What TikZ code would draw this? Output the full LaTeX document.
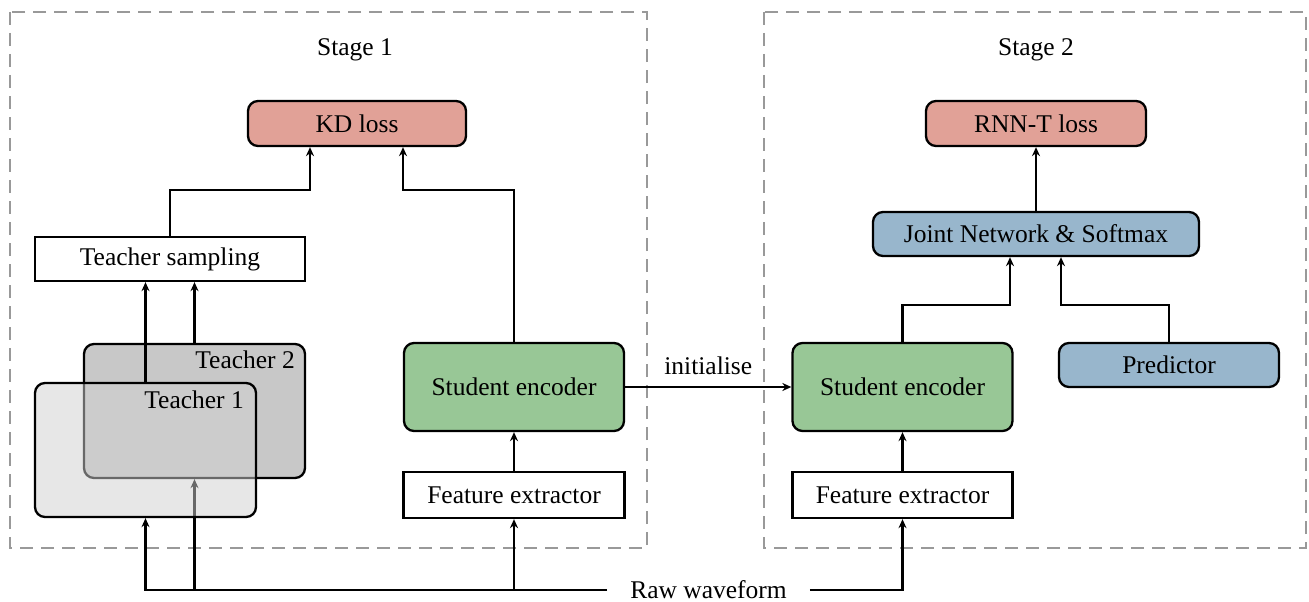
\documentclass[tikz,border=0pt]{standalone}
\usepackage{fontspec}
\setmainfont{Liberation Serif}
\usetikzlibrary{arrows.meta,positioning}
\definecolor{lossred}{HTML}{E1A197}
\definecolor{encgreen}{HTML}{98C796}
\definecolor{netblue}{HTML}{98B6CC}
\definecolor{tgrayA}{HTML}{C8C8C8}
\definecolor{tgrayB}{HTML}{D0D0D0}
\definecolor{dashgray}{HTML}{999999}
\tikzset{
  every node/.style={font=\fontsize{25.5}{30}\selectfont},
  boxbase/.style={draw=black, line width=2.3pt, inner sep=0pt},
  roundbox/.style={boxbase, rounded corners=10pt},
  flatbox/.style={boxbase},
  arr/.style={line width=2.3pt, -{Stealth[length=9pt,width=8pt]}},
  stagebox/.style={draw=dashgray, line width=2pt, dash pattern=on 13pt off 8pt},
  plaintext/.style={inner sep=0pt}
}
\begin{document}
\begin{tikzpicture}[x=1pt,y=-1pt]
\useasboundingbox (0,0) rectangle (1309,602);

% stage frames
\draw[stagebox] (10,12) rectangle (647,548);
\draw[stagebox] (764,12) rectangle (1306,548);
\node[plaintext] (st1) at (355,50) {Stage 1};
\node[plaintext] (st2) at (1036,50) {Stage 2};

% Stage 1 nodes
\node[roundbox, fill=lossred, minimum width=218pt, minimum height=45pt] (kd) at (357,123.5) {KD loss};
\node[flatbox, minimum width=270pt, minimum height=44pt] (ts) at (170,259) {Teacher sampling};
\node[roundbox, fill=encgreen, minimum width=220pt, minimum height=88pt] (se1) at (514,387) {Student encoder};
\node[flatbox, minimum width=221pt, minimum height=46pt] (fe1) at (514,495) {Feature extractor};

% Raw waveform
\node[inner ysep=0pt, inner xsep=23pt] (raw) at (708.5,590) {Raw waveform};

% Teacher 2 and its input
\node[roundbox, fill=tgrayA, minimum width=221pt, minimum height=134pt] (t2) at (194.5,411) {};
\node[plaintext, anchor=base east] (t2lab) at (295,368) {Teacher 2};
\draw[arr] (t2.south |- raw.west) -- (t2.south);

% Teacher 1 (semi-transparent, on top)
\node[roundbox, fill=tgrayB, fill opacity=0.5, minimum width=221pt, minimum height=134pt] (t1) at (145.5,450) {};
\node[plaintext, anchor=base east] (t1lab) at (244,408) {Teacher 1};

% Teachers -> sampling
\draw[arr] (t1.north) -- (t1.north |- ts.south);
\draw[arr] (t2.north) -- (t2.north |- ts.south);

% raw waveform feeds
\draw[arr] (raw.west) -| (t1.south);
\draw[arr] (fe1.south |- raw.west) -- (fe1.south);
\draw[arr] (fe1.north) -- (se1.south);

% to KD loss
\draw[arr] (ts.north) -- ++(0,-46) -| ([xshift=-47pt]kd.south);
\draw[arr] (se1.north) -- ++(0,-152) -| ([xshift=46pt]kd.south);

% Stage 2 nodes
\node[roundbox, fill=lossred, minimum width=220pt, minimum height=45pt] (rnn) at (1036,123.5) {RNN-T loss};
\node[roundbox, fill=netblue, minimum width=326pt, minimum height=44pt] (joint) at (1036,234) {Joint Network \& Softmax};
\node[roundbox, fill=netblue, minimum width=220pt, minimum height=44pt] (pred) at (1169,365) {Predictor};
\node[roundbox, fill=encgreen, minimum width=220pt, minimum height=88pt] (se2) at (902.5,387) {Student encoder};
\node[flatbox, minimum width=220pt, minimum height=46pt] (fe2) at (902.5,495) {Feature extractor};

\draw[arr] (raw.east) -| (fe2.south);
\draw[arr] (fe2.north) -- (se2.south);
\draw[arr] (se2.north) -- ++(0,-37) -| ([xshift=-26pt]joint.south);
\draw[arr] (pred.north) -- ++(0,-37) -| ([xshift=25pt]joint.south);
\draw[arr] (joint.north) -- (rnn.south);

% initialise
\draw[arr] (se1.east) -- node[midway, anchor=base, yshift=13pt, inner sep=0pt] (initlab) {initialise} (se2.west);
\end{tikzpicture}
\end{document}
